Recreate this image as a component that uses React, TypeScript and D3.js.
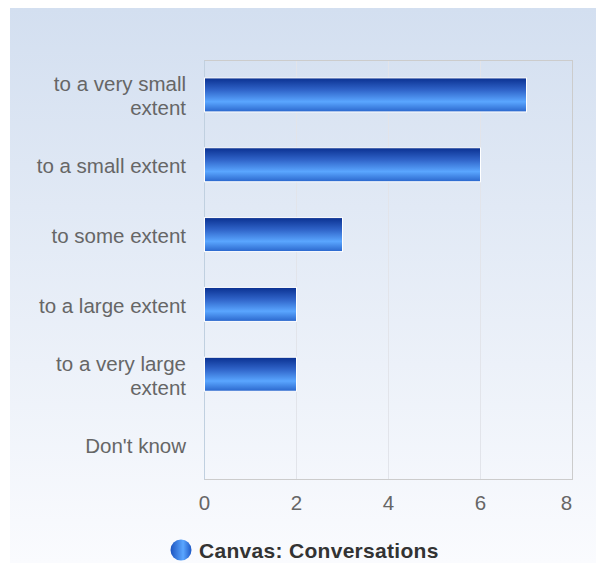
import React from "react";
import * as d3 from "d3";

const categories: string[][] = [
  ["to a very small", "extent"],
  ["to a small extent"],
  ["to some extent"],
  ["to a large extent"],
  ["to a very large", "extent"],
  ["Don't know"],
];
const values: number[] = [7, 6, 3, 2, 2, 0];
const xTicks: number[] = [0, 2, 4, 6, 8];
const seriesName = "Canvas: Conversations";

const W = 596;
const H = 563;
const left = 204.5;
const right = 572.5;
const top = 60.5;
const bottom = 479.5;
const FONT = "'Liberation Sans', Arial, Helvetica, sans-serif";

export default function App() {
  const x = d3.scaleLinear().domain([0, 8]).range([left, right]);
  const band = (bottom - top) / categories.length;
  const barH = 34;
  return (
    <svg
      width={W}
      height={H}
      style={{ position: "absolute", left: 0, top: 0 }}
      fontFamily={FONT}
    >
      <defs>
        <linearGradient id="bg" x1="0" y1="0" x2="0" y2="1">
          <stop offset="0" stopColor="#d3dff0" />
          <stop offset="1" stopColor="#fafbfe" />
        </linearGradient>
        <linearGradient id="bar" x1="0" y1="0" x2="0" y2="1">
          <stop offset="0" stopColor="#0a3090" />
          <stop offset="0.35" stopColor="#2f63c8" />
          <stop offset="0.7" stopColor="#5aa6ff" />
          <stop offset="1" stopColor="#2a66cc" />
        </linearGradient>
        <linearGradient id="leg" x1="0" y1="0" x2="1" y2="0">
          <stop offset="0" stopColor="#1c54c0" />
          <stop offset="0.6" stopColor="#5aa6ff" />
          <stop offset="1" stopColor="#1e58c6" />
        </linearGradient>
      </defs>
      <rect x={10} y={8} width={W - 10} height={H - 8} fill="url(#bg)" />
      {xTicks.map((t) => (
        <line
          key={"g" + t}
          x1={x(t)}
          x2={x(t)}
          y1={top}
          y2={bottom}
          stroke="#e2e4ea"
          strokeWidth={1}
        />
      ))}
      <rect
        x={left}
        y={top}
        width={right - left}
        height={bottom - top}
        fill="none"
        stroke="#cccccc"
        strokeWidth={1}
      />
      <line x1={left} x2={left} y1={top} y2={bottom} stroke="#c0d0e0" strokeWidth={1} />
      {values.map((v, i) => {
        const cy = top + band * (i + 0.5);
        const w = x(v) - x(0);
        return w > 0 ? (
          <rect
            key={"b" + i}
            x={x(0)}
            y={cy - barH / 2 - 0.5}
            width={w}
            height={barH}
            fill="url(#bar)"
            stroke="#ffffff"
            strokeWidth={1}
          />
        ) : null;
      })}
      {categories.map((lines, i) => {
        const cy = top + band * (i + 0.5);
        const lh = 24;
        const y0 = cy - ((lines.length - 1) * lh) / 2 + 8;
        return (
          <text
            key={"c" + i}
            textAnchor="end"
            fontSize={20.5}
            fill="#666666"
          >
            {lines.map((l, j) => (
              <tspan key={j} x={186} y={y0 + j * lh}>
                {l}
              </tspan>
            ))}
          </text>
        );
      })}
      {xTicks.map((t, i) => {
        const last = i === xTicks.length - 1;
        return (
          <text
            key={"t" + t}
            x={last ? x(t) : x(t)}
            dx={last ? -6 : 0}
            y={510}
            textAnchor="middle"
            fontSize={20.5}
            fill="#666666"
          >
            {t}
          </text>
        );
      })}
      <circle cx={181} cy={550} r={10.5} fill="url(#leg)" />
      <text x={199} y={557.5} fontSize={21} fontWeight="bold" fill="#333333" letterSpacing={0.3}>
        {seriesName}
      </text>
    </svg>
  );
}
